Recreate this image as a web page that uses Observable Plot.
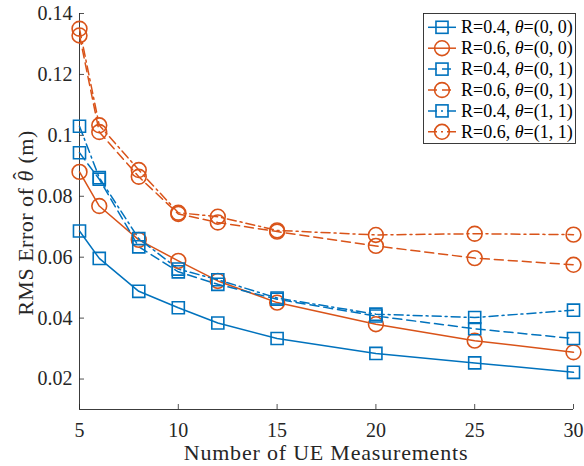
<!DOCTYPE html>
<html>
<head>
<meta charset="utf-8">
<script src="https://cdn.jsdelivr.net/npm/d3@7"></script>
<script src="https://cdn.jsdelivr.net/npm/@observablehq/plot@0.6"></script>
<style>
  html, body { margin: 0; padding: 0; background: #fff; }
  #chart { width: 584px; height: 466px; }
</style>
</head>
<body>
<div id="chart"></div>
<script>
// Number of UE measurements (x)
const measurements = [5, 6, 8, 10, 12, 15, 20, 25, 30];

// RMS error series
const r04_00 = [0.0686, 0.0596, 0.0488, 0.0434, 0.0384, 0.0333, 0.0284, 0.0253, 0.0222];
const r06_00 = [0.0880, 0.0768, 0.0657, 0.0588, 0.0522, 0.0451, 0.0380, 0.0326, 0.0288];
const r04_01 = [0.0943, 0.0856, 0.0634, 0.0552, 0.0511, 0.0462, 0.0407, 0.0365, 0.0333];
const r06_01 = [0.1328, 0.1011, 0.0864, 0.0742, 0.0714, 0.0684, 0.0637, 0.0597, 0.0575];
const r04_11 = [0.1030, 0.0861, 0.0661, 0.0561, 0.0526, 0.0466, 0.0413, 0.0402, 0.0426];
const r06_11 = [0.1350, 0.1033, 0.0886, 0.0746, 0.0733, 0.0688, 0.0673, 0.0677, 0.0674];

const seriesNames = ["R=0.4, θ=(0, 0)", "R=0.6, θ=(0, 0)", "R=0.4, θ=(0, 1)", "R=0.6, θ=(0, 1)", "R=0.4, θ=(1, 1)", "R=0.6, θ=(1, 1)"];
const seriesValues = [r04_00, r06_00, r04_01, r06_01, r04_11, r06_11];
const seriesR = ["0.4", "0.6", "0.4", "0.6", "0.4", "0.6"];
const seriesTheta = ["(0, 0)", "(0, 0)", "(0, 1)", "(0, 1)", "(1, 1)", "(1, 1)"];

const xTicks = [5, 10, 15, 20, 25, 30];
const yTicks = [0.02, 0.04, 0.06, 0.08, 0.1, 0.12, 0.14];
const yTickLabels = ["0.02", "0.04", "0.06", "0.08", "0.1", "0.12", "0.14"];

const BLUE = "#0072BD", ORANGE = "#D95319", AX = "#262626";
const styles = [
  {color: BLUE, dash: null, symbol: "square"},
  {color: ORANGE, dash: null, symbol: "circle"},
  {color: BLUE, dash: "9,5", symbol: "square"},
  {color: ORANGE, dash: "9,5", symbol: "circle"},
  {color: BLUE, dash: "9,4,2,4", symbol: "square"},
  {color: ORANGE, dash: "9,4,2,4", symbol: "circle"}
];
const SQ_R = 6.8, CI_R = 7.4;

const W = 584, H = 466, mL = 79, mR = 11, mT = 13, mB = 57;
const fw = W - mL - mR, fh = H - mT - mB;

const marks = [];
seriesValues.forEach((vals, i) => {
  const data = measurements.map((m, j) => ({x: m, y: vals[j]}));
  const st = styles[i];
  marks.push(Plot.line(data, {x: "x", y: "y", stroke: st.color, strokeWidth: 1.5, strokeDasharray: st.dash || undefined}));
});
seriesValues.forEach((vals, i) => {
  const data = measurements.map((m, j) => ({x: m, y: vals[j]}));
  const st = styles[i];
  marks.push(Plot.dot(data, {x: "x", y: "y", symbol: st.symbol, r: st.symbol === "square" ? SQ_R : CI_R, stroke: st.color, strokeWidth: 1.6, fill: "none"}));
});

const plot = Plot.plot({
  width: W, height: H,
  marginLeft: mL, marginRight: mR, marginTop: mT, marginBottom: mB,
  style: {fontFamily: "'Liberation Serif', 'Times New Roman', serif", fontSize: "20px", color: AX, background: "#fff"},
  x: {domain: [5, 30]},
  y: {domain: [0.01, 0.14]},
  marks: [
    Plot.axisX(xTicks, {tickSize: 0, tickPadding: 13, label: null, fontSize: 20, fill: AX}),
    Plot.axisY(yTicks, {tickSize: 0, tickPadding: 7, label: null, fontSize: 20, fill: AX,
      tickFormat: (d) => yTickLabels[yTicks.indexOf(d)]}),
    Plot.tickX(xTicks, {x: d => d, insetTop: fh - 5, stroke: AX, strokeWidth: 0.8}),
    Plot.tickY(yTicks, {y: d => d, insetRight: fw - 5, stroke: AX, strokeWidth: 0.8}),
    Plot.ruleX([5], {stroke: AX, strokeWidth: 0.9}),
    Plot.ruleY([0.01], {stroke: AX, strokeWidth: 0.9}),
    ...marks
  ]
});

const svg = d3.select(plot);
const font = "'Liberation Serif', 'Times New Roman', serif";

// x label
svg.append("text")
  .attr("x", mL + fw / 2).attr("y", 460)
  .attr("text-anchor", "middle")
  .style("letter-spacing", "0.8px")
  .attr("font-family", font).attr("font-size", 22).attr("fill", AX)
  .text("Number of UE Measurements");

// y label
const yl = svg.append("text")
  .attr("transform", `translate(33, 223) rotate(-90)`)
  .attr("text-anchor", "middle")
  .style("letter-spacing", "0.5px")
  .attr("font-family", font).attr("font-size", 22).attr("fill", AX);
yl.append("tspan").text("RMS Error of ");
yl.append("tspan").attr("font-style", "italic").text("θ");
yl.append("tspan").attr("dx", -9.5).attr("dy", -5).text("ˆ");
yl.append("tspan").attr("dx", 2.5).attr("dy", 5).text(" (m)");

// legend
const lg = svg.append("g").attr("text-anchor", "start");
lg.append("rect").attr("x", 423.5).attr("y", 13.5).attr("width", 152).attr("height", 130)
  .style("fill", "#fff").style("stroke", AX).style("stroke-width", "0.9px");
seriesNames.forEach((name, i) => {
  const cy = 27.3 + i * 20.9;
  const st = styles[i];
  lg.append("line").attr("x1", 428).attr("x2", 456).attr("y1", cy).attr("y2", cy)
    .style("stroke", st.color).style("stroke-width", "1.5px").style("stroke-dasharray", st.dash || "none");
  if (st.symbol === "square") {
    const s = SQ_R * Math.sqrt(Math.PI);
    lg.append("rect").attr("x", 442 - s / 2).attr("y", cy - s / 2).attr("width", s).attr("height", s)
      .style("fill", "none").style("stroke", st.color).style("stroke-width", "1.6px");
  } else {
    lg.append("circle").attr("cx", 442).attr("cy", cy).attr("r", CI_R)
      .style("fill", "none").style("stroke", st.color).style("stroke-width", "1.6px");
  }
  const t = lg.append("text").attr("x", 461).attr("y", cy + 6).attr("text-anchor", "start")
    .attr("font-family", font).attr("font-size", 18).style("fill", "#000");
  t.append("tspan").text(`R=${seriesR[i]}, `);
  t.append("tspan").attr("font-style", "italic").text("θ");
  t.append("tspan").text(`=${seriesTheta[i]}`);
});

document.getElementById("chart").appendChild(plot);
</script>
</body>
</html>
